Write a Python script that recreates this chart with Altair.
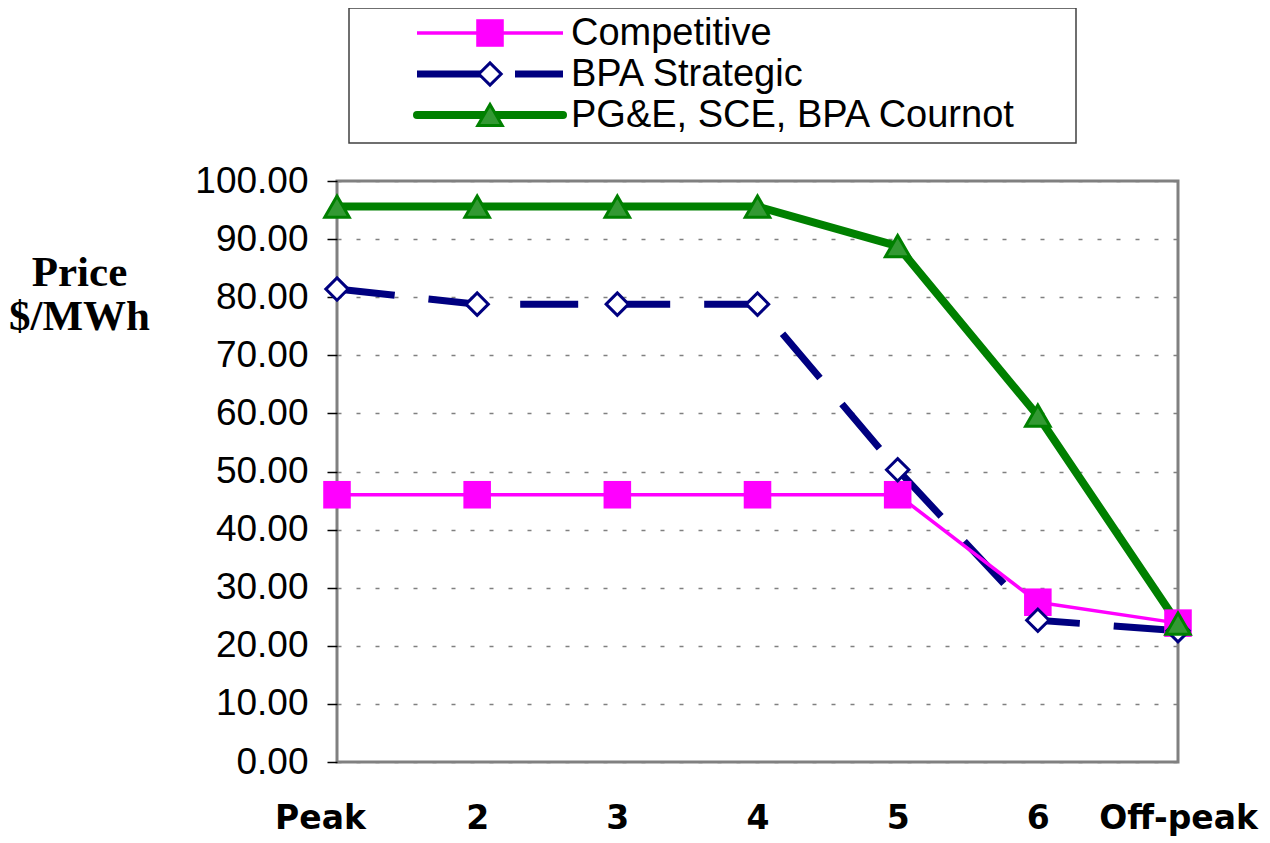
import altair as alt
import pandas as pd

periods = ["Peak", "2", "3", "4", "5", "6", "Off-peak"]
competitive = [46.0, 46.0, 46.0, 46.0, 46.0, 27.5, 23.9]
bpa_strategic = [81.4, 78.8, 78.8, 78.8, 50.3, 24.4, 22.6]
cournot = [95.6, 95.6, 95.6, 95.6, 88.8, 59.6, 23.8]

series_names = ["Competitive", "BPA Strategic", "PG&E, SCE, BPA Cournot"]
series_values = [competitive, bpa_strategic, cournot]

rows = []
for name, vals in zip(series_names, series_values):
    for p, v in zip(periods, vals):
        rows.append({"period": p, "price": v, "series": name})
df = pd.DataFrame(rows)

W, H = 841, 581

x_enc = alt.X("period:N", sort=periods,
              scale=alt.Scale(type="point", padding=0),
              axis=alt.Axis(title=None, ticks=False, domain=False, grid=False,
                            labelFont="DejaVu Sans", labelFontWeight="bold",
                            labelFontSize=33, labelColor="black", labelPadding=40,
                            labelAngle=0,
                            labelOffset={"condition": {"test": "datum.value == 'Peak'", "value": -17},
                                         "value": 0}))
y_enc = alt.Y("price:Q", scale=alt.Scale(domain=[0, 100], nice=False),
              axis=alt.Axis(values=list(range(0, 101, 10)), format=".2f",
                            domain=False, ticks=True, tickSize=10, tickColor="black",
                            tickWidth=1.5, labelFont="Liberation Sans", labelFontSize=37,
                            labelColor="black", labelPadding=19,
                            grid=True, gridColor="#808080", gridDash=[4, 15], gridWidth=1.5,
                            title=["Price", "$/MWh"], titleAngle=0,
                            titleFont="Liberation Serif", titleFontWeight="bold",
                            titleFontSize=43, titleColor="black", titleAlign="center",
                            titleBaseline="alphabetic", titleX=-258, titleY=104,
                            titleLineHeight=44))

styles = {
    "Competitive": dict(color="#FF00FF", width=3.5, dash=None,
                        shape="square", size=760, fill="#FF00FF", stroke="#FF00FF", sw=0),
    "BPA Strategic": dict(color="#000080", width=7, dash=[58, 34],
                          shape="diamond", size=500, fill="white", stroke="#000080", sw=3),
    "PG&E, SCE, BPA Cournot": dict(color="#008000", width=8, dash=None,
                                   shape="triangle-up", size=600, fill="#339933", stroke="#008000", sw=3),
}

base = alt.Chart(df)

def line_layer(name):
    s = styles[name]
    kw = dict(color=s["color"], strokeWidth=s["width"], strokeJoin="round", strokeCap="butt")
    if s["dash"]:
        kw["strokeDash"] = s["dash"]
    return base.transform_filter(alt.datum.series == name).mark_line(**kw).encode(x=x_enc, y=y_enc)

def point_layer(name):
    s = styles[name]
    return base.transform_filter(alt.datum.series == name).mark_point(
        shape=s["shape"], size=s["size"], filled=True, fill=s["fill"], stroke=s["stroke"],
        strokeWidth=s["sw"], opacity=1, fillOpacity=1).encode(x=x_enc, y=y_enc)

layers = [line_layer("BPA Strategic"), line_layer("Competitive"), line_layer("PG&E, SCE, BPA Cournot"),
          point_layer("Competitive"), point_layer("BPA Strategic"), point_layer("PG&E, SCE, BPA Cournot")]

# legend (drawn above the plot area)
one = pd.DataFrame({"k": [0]})
leg = alt.Chart(one)
layers.append(leg.mark_rect(fill="white", stroke="#404040", strokeWidth=1.5).encode(
    x=alt.value(12), x2=alt.value(739), y=alt.value(-173), y2=alt.value(-38)))
row_y = [-148, -107, -66]
for name, ry in zip(series_names, row_y):
    s = styles[name]
    kw = dict(color=s["color"], strokeWidth=s["width"], strokeCap="butt")
    if name == "BPA Strategic":
        kw["strokeDash"] = [66, 32]
    if name == "PG&E, SCE, BPA Cournot":
        kw["strokeCap"] = "round"
    layers.append(leg.mark_rule(**kw).encode(x=alt.value(80), x2=alt.value(226), y=alt.value(ry)))
    layers.append(leg.mark_point(shape=s["shape"], size=s["size"], filled=True, fill=s["fill"],
                                 stroke=s["stroke"], strokeWidth=s["sw"], opacity=1).encode(
        x=alt.value(153), y=alt.value(ry)))
    layers.append(leg.mark_text(text=name, align="left", baseline="middle", font="Liberation Sans",
                                fontSize=38, color="black").encode(x=alt.value(234), y=alt.value(ry + 1)))

chart = alt.layer(*layers).properties(
    width=W, height=H,
    autosize=alt.AutoSizeParams(type="none"),
    padding={"left": 329, "top": 173, "right": 84, "bottom": 80},
    background="white",
).configure_view(stroke="#808080", strokeWidth=3)

chart.save("out.html", embed_options={"renderer": "svg", "actions": False})
